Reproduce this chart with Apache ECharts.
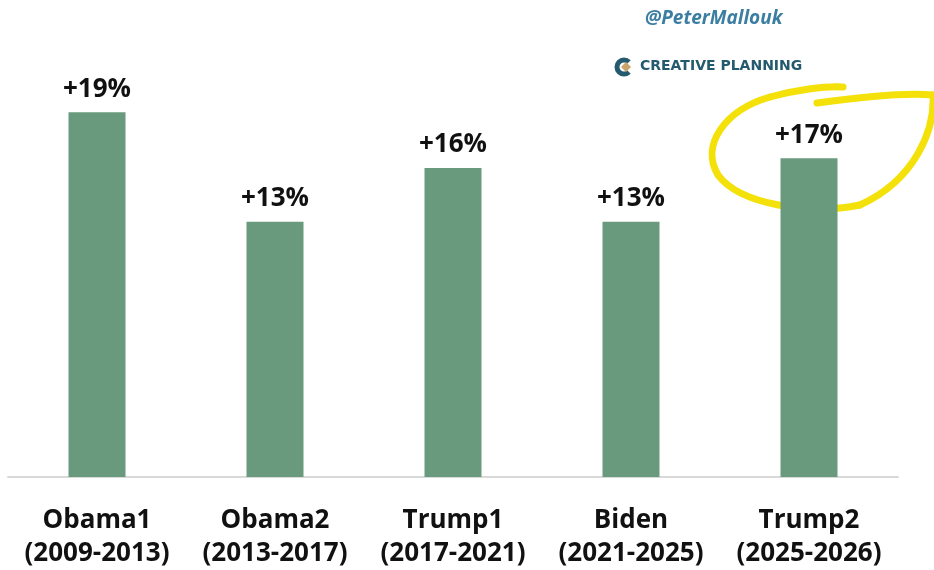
<!DOCTYPE html>
<html>
<head>
<meta charset="utf-8">
<script src="https://cdn.jsdelivr.net/npm/echarts@6/dist/echarts.min.js"></script>
<style>html,body{margin:0;padding:0;background:#fff}#c{width:934px;height:570px}</style>
</head>
<body>
<div id="c"></div>
<script>
var categories = ['Obama1\n(2009-2013)', 'Obama2\n(2013-2017)', 'Trump1\n(2017-2021)', 'Biden\n(2021-2025)', 'Trump2\n(2025-2026)'];
var gains = [19.0, 13.3, 16.1, 13.3, 16.6];
var handle = '@PeterMallouk';
var brand = 'CREATIVE PLANNING';

function curve(x1, y1, c1x, c1y, c2x, c2y, x2, y2) {
  return {
    type: 'bezierCurve',
    shape: { x1: x1, y1: y1, cpx1: c1x, cpy1: c1y, cpx2: c2x, cpy2: c2y, x2: x2, y2: y2 },
    style: { stroke: '#f5e10a', lineWidth: 7, fill: null, lineCap: 'round' }
  };
}

var chart = echarts.init(document.getElementById('c'));
chart.setOption({
  animation: false,
  backgroundColor: '#fff',
  grid: { left: 8, right: 36, top: 93, bottom: 91, containLabel: false },
  xAxis: {
    type: 'category',
    data: categories,
    axisLine: { lineStyle: { color: '#d9d9d9', width: 2 } },
    axisTick: { show: false },
    axisLabel: {
      color: '#111',
      fontFamily: 'Open Sans',
      fontWeight: 'bold',
      fontSize: 26,
      lineHeight: 33,
      margin: 27,
      interval: 0
    }
  },
  yAxis: { type: 'value', min: 0, max: 20, show: false, splitLine: { show: false } },
  series: [{
    type: 'bar',
    data: gains,
    barWidth: 57,
    itemStyle: { color: '#699a7e' },
    label: {
      show: true,
      position: 'top',
      distance: 10,
      color: '#111',
      fontFamily: 'Open Sans',
      fontWeight: 'bold',
      fontSize: 26,
      formatter: function (p) { return '+' + Math.round(p.value) + '%'; }
    }
  }],
  graphic: [
    { type: 'text', x: 645, y: 9, style: { text: handle, fill: '#3b7ea1', font: 'italic bold 19px "Open Sans"' } },
    { type: 'arc', shape: { cx: 624, cy: 67, r: 7, startAngle: Math.PI * 0.25, endAngle: Math.PI * 1.75, clockwise: true }, style: { stroke: '#245a6e', lineWidth: 5, fill: null } },
    { type: 'polygon', shape: { points: [[626, 62], [631, 67], [626, 72], [621, 67]] }, style: { fill: '#c9a46a' } },
    { type: 'text', x: 640, y: 59, style: { text: brand, fill: '#245a6e', font: 'bold 14px "DejaVu Sans"' } },
    curve(817, 103, 860, 97, 905, 92, 933, 95),
    curve(933, 95, 935, 130, 915, 180, 860, 205),
    curve(860, 205, 810, 215, 740, 205, 718, 175),
    curve(718, 175, 700, 145, 725, 110, 770, 97),
    curve(770, 97, 795, 90, 825, 86, 843, 87)
  ]
});
</script>
</body>
</html>
